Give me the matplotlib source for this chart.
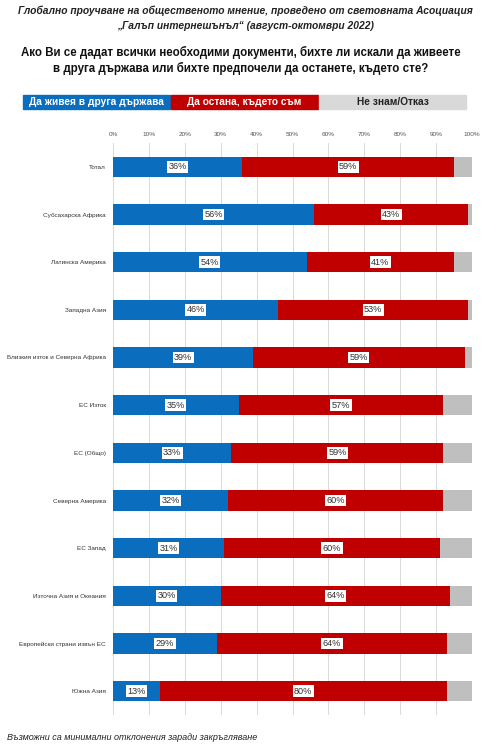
import numpy as np
import matplotlib
matplotlib.use("Agg")
import matplotlib.pyplot as plt
from matplotlib.patches import Rectangle

plt.rcParams['font.family'] = ['Liberation Sans', 'DejaVu Sans']

# данни
regions = ["Тотал", "Субсахарска Африка", "Латинска Америка", "Западна Азия",
           "Близкия изток и Северна Африка", "ЕС Изток", "ЕС (Общо)",
           "Северна Америка", "ЕС Запад", "Източна Азия и Океания",
           "Европейски страни извън ЕС", "Южна Азия"]
live_abroad = [36, 56, 54, 46, 39, 35, 33, 32, 31, 30, 29, 13]
stay = [59, 43, 41, 53, 59, 57, 59, 60, 60, 64, 64, 80]
dont_know = [100 - a - b for a, b in zip(live_abroad, stay)]
legend_labels = ["Да живея в друга държава", "Да остана, където съм", "Не знам/Отказ"]
xticks = list(range(0, 101, 10))

blue = "#0A6DBE"
red = "#C00000"
gray = "#BFBFBF"

W, H = 486, 750
fig = plt.figure(figsize=(W / 100, H / 100), dpi=100)

# заглавия
fig.text(245 / W, 1 - 11 / H, "Глобално проучване на общественото мнение, проведено от световната Асоциация",
         ha="center", va="center", fontsize=7.4, style="italic", weight="bold", color="#222222")
fig.text(245 / W, 1 - 26 / H, "„Галъп интернешънъл“ (август-октомври 2022)",
         ha="center", va="center", fontsize=7.4, style="italic", weight="bold", color="#222222")
fig.text(241 / W, 1 - 52 / H, "Ако Ви се дадат всички необходими документи, бихте ли искали да живеете",
         ha="center", va="center", fontsize=8.3, weight="bold", color="#111111")
fig.text(241 / W, 1 - 68 / H, "в друга държава или бихте предпочели да останете, където сте?",
         ha="center", va="center", fontsize=8.3, weight="bold", color="#111111")

# легенда като цветни ленти
leg_x = [23, 171, 319]
leg_w = 147
for lx, lab, col, tc in zip(leg_x, legend_labels, [blue, red, "#D9D9D9"], ["white", "white", "#222222"]):
    fig.patches.append(Rectangle((lx / W, 1 - 109 / H), leg_w / W, 14 / H,
                                 transform=fig.transFigure, color=col, zorder=1))
    fig.text((lx + leg_w / 2) / W, 1 - 102 / H, lab, ha="center", va="center",
             fontsize=7.3, weight="bold", color=tc)

# основна графика
ax = fig.add_axes([113 / W, 1 - 715 / H, (472 - 113) / W, (715 - 143) / H])
y = np.arange(len(regions))
h = 0.42
ax.barh(y, live_abroad, height=h, color=blue, zorder=2)
ax.barh(y, stay, left=live_abroad, height=h, color=red, zorder=2)
ax.barh(y, dont_know, left=np.array(live_abroad) + np.array(stay), height=h, color=gray, zorder=2)

for i in range(len(regions)):
    for val, left in [(live_abroad[i], 0), (stay[i], live_abroad[i])]:
        ax.text(left + val / 2, y[i], f"{val}%", ha="center", va="center", fontsize=6.6,
                color="#333333", zorder=3,
                bbox=dict(boxstyle="square,pad=0.15", fc="white", ec="none"))

ax.set_xlim(0, 100)
ax.set_ylim(len(regions) - 0.5, -0.5)
ax.set_xticks(xticks)
ax.set_xticklabels([f"{t}%" for t in xticks], fontsize=4.6, color="#555555")
ax.xaxis.tick_top()
ax.tick_params(axis="x", length=0, pad=4)
ax.set_yticks(y)
ax.set_yticklabels(regions, fontsize=4.6, color="#333333")
ax.tick_params(axis="y", length=0, pad=5)
ax.grid(axis="x", color="#D9D9D9", linewidth=0.7, zorder=0)
for s in ax.spines.values():
    s.set_visible(False)

fig.text(7 / W, 1 - 738 / H, "Възможни са минимални отклонения заради закръгляване",
         ha="left", va="center", fontsize=6.5, style="italic", color="#222222")

fig.savefig("out.png", dpi=100)
